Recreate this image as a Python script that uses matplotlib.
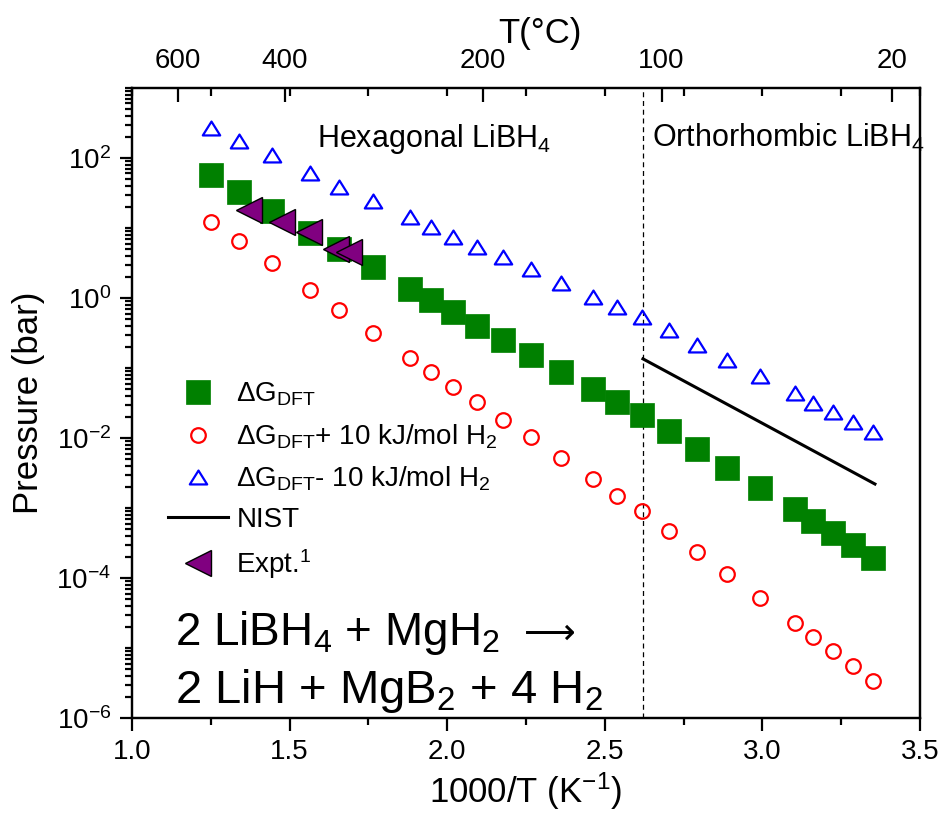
import matplotlib

matplotlib.use("Agg")
import matplotlib.pyplot as plt
import numpy as np
from matplotlib.path import Path
from matplotlib.ticker import FixedFormatter, FixedLocator, LogLocator, MultipleLocator, NullFormatter

plt.rcParams.update({
    "font.family": ["Liberation Sans", "DejaVu Sans"],
    "mathtext.fontset": "custom",
    "mathtext.rm": "Liberation Sans",
    "mathtext.it": "Liberation Sans:italic",
    "mathtext.bf": "Liberation Sans:bold",
    "axes.linewidth": 1.6,
})

# inverse temperature, 1000/T (K^-1), shared by the three DFT series
inv_t = [1.251, 1.339, 1.444, 1.565, 1.657, 1.765, 1.882, 1.949, 2.018, 2.095,
         2.177, 2.266, 2.361, 2.463, 2.539, 2.618, 2.704, 2.793, 2.888, 2.992,
         3.103, 3.161, 3.224, 3.287, 3.351]

# equilibrium H2 pressure (bar)
p_dft = [57.1, 32.7, 17.5, 8.49, 5.01, 2.77, 1.35, 0.935, 0.631, 0.398,
         0.251, 0.153, 0.0877, 0.0501, 0.0327, 0.0213, 0.0126, 6.97e-3, 3.72e-3, 1.93e-3,
         9.68e-4, 6.52e-4, 4.40e-4, 2.96e-4, 1.93e-4]
p_plus10 = [12.2, 6.52, 3.16, 1.30, 0.675, 0.316, 0.139, 0.0877, 0.0536, 0.0327,
            0.0181, 0.0103, 5.18e-3, 2.59e-3, 1.48e-3, 9.06e-4, 4.69e-4, 2.35e-4, 1.14e-4, 5.18e-5,
            2.28e-5, 1.44e-5, 9.06e-6, 5.53e-6, 3.38e-6]
p_minus10 = [268.5, 175.0, 110.0, 61.1, 38.5, 24.3, 14.4, 10.3, 7.43, 5.36,
             3.85, 2.59, 1.64, 1.03, 0.743, 0.536, 0.349, 0.213, 0.130, 0.0769,
             0.0440, 0.0316, 0.0235, 0.0169, 0.0122]

nist_inv_t = [2.621, 3.357]
nist_p = [0.135, 2.20e-3]

expt_inv_t = [1.371, 1.476, 1.562, 1.647, 1.688]
expt_p = [18.1, 12.2, 8.77, 5.01, 4.54]

t_transition = 2.62          # hexagonal/orthorhombic LiBH4 transition
top_celsius = [600, 400, 200, 100, 20]
y_label_exps = [-6, -4, -2, 0, 2]

GREEN = "#008000"
RED = "#ff0000"
BLUE = "#0000ff"
PURPLE = "#800080"

# open triangle a little wider than tall
tri_up = Path([(-1.0, -0.8), (1.0, -0.8), (0.0, 0.8), (-1.0, -0.8)],
              [Path.MOVETO, Path.LINETO, Path.LINETO, Path.CLOSEPOLY])

fig = plt.figure(figsize=(9.47, 8.16), dpi=100)
ax = fig.add_axes([0.1394, 0.1201, 0.8321, 0.7721])

ax.plot(inv_t, p_dft, ls="none", marker="s", ms=16.8, mfc=GREEN, mec=GREEN,
        mew=0.5, label="ΔG$_{\\rm DFT}$", zorder=3)
ax.plot(inv_t, p_plus10, ls="none", marker="o", ms=10.5, mfc="none", mec=RED,
        mew=1.6, label="ΔG$_{\\rm DFT}$+ 10 kJ/mol H$_2$", zorder=3)
ax.plot(inv_t, p_minus10, ls="none", marker=tri_up, ms=12.5, mfc="none", mec=BLUE,
        mew=1.6, label="ΔG$_{\\rm DFT}$- 10 kJ/mol H$_2$", zorder=3)
ax.plot(nist_inv_t, nist_p, color="black", lw=2.2, label="NIST", zorder=3)
ax.plot(expt_inv_t, expt_p, ls="none", marker="<", ms=19, mfc=PURPLE, mec="black",
        mew=1.0, label="Expt.$^{\\rm 1}$", zorder=4)

ax.axvline(t_transition, color="black", lw=0.9, ls=(0, (4, 3)), zorder=2)

ax.set_yscale("log")
ax.set_xlim(1.0, 3.5)
ax.set_ylim(1e-6, 1e3)

ax.xaxis.set_major_locator(MultipleLocator(0.5))
ax.xaxis.set_minor_locator(MultipleLocator(0.25))
ax.xaxis.set_major_formatter(plt.FormatStrFormatter("%.1f"))
ax.yaxis.set_major_locator(FixedLocator([10.0 ** e for e in y_label_exps]))
ax.yaxis.set_major_formatter(FixedFormatter([f"10$^{{{e}}}$" for e in y_label_exps]))
ax.yaxis.set_minor_locator(LogLocator(base=10, subs=np.arange(1, 10), numticks=40))
ax.yaxis.set_minor_formatter(NullFormatter())

ax.tick_params(which="both", direction="out", top=False, right=False,
               labelsize=20, width=1.6)
ax.tick_params(which="major", length=9, pad=6)
ax.tick_params(which="minor", length=5)

ax.set_xlabel("1000/T (K$^{-1}$)", fontsize=25, labelpad=4)
ax.set_ylabel("Pressure (bar)", fontsize=25, labelpad=8)

# top axis in degrees Celsius
ax2 = ax.twiny()
ax2.set_xlim(ax.get_xlim())
ax2.set_xticks([1000.0 / (t + 273.15) for t in top_celsius])
ax2.set_xticklabels([str(t) for t in top_celsius])
ax2.xaxis.set_minor_locator(MultipleLocator(0.25))
ax2.tick_params(which="both", direction="in", labelsize=20, width=1.6)
ax2.tick_params(which="major", length=10, pad=10)
ax2.tick_params(which="minor", length=6)
ax2.set_xlabel("T(°C)", fontsize=25)
ax2.xaxis.label.set_va("bottom")
ax2.xaxis.set_label_coords(0.518, 1.06)

ax.text(1.587, 143, "Hexagonal LiBH$_4$", fontsize=22, va="baseline")
ax.text(2.650, 143, "Orthorhombic LiBH$_4$", fontsize=22, va="baseline")

# reaction, with the long arrow set in DejaVu Sans (no mathtext on that piece)
ax.text(0.055, 0.116, "2 LiBH$_4$ + MgH$_2$", transform=ax.transAxes,
        fontsize=33, va="baseline")
ax.text(0.497, 0.118, "⟶", transform=ax.transAxes, family="DejaVu Sans",
        fontsize=26, va="baseline")
ax.text(0.055, 0.024, "2 LiH + MgB$_2$ + 4 H$_2$", transform=ax.transAxes,
        fontsize=34, va="baseline")

ax.legend(loc="upper left", bbox_to_anchor=(0.046, 0.535), frameon=False,
          fontsize=20, handlelength=2.15, handletextpad=0.3, labelspacing=0.5,
          borderpad=0, borderaxespad=0, numpoints=1)

fig.savefig("out.png", dpi=100)
